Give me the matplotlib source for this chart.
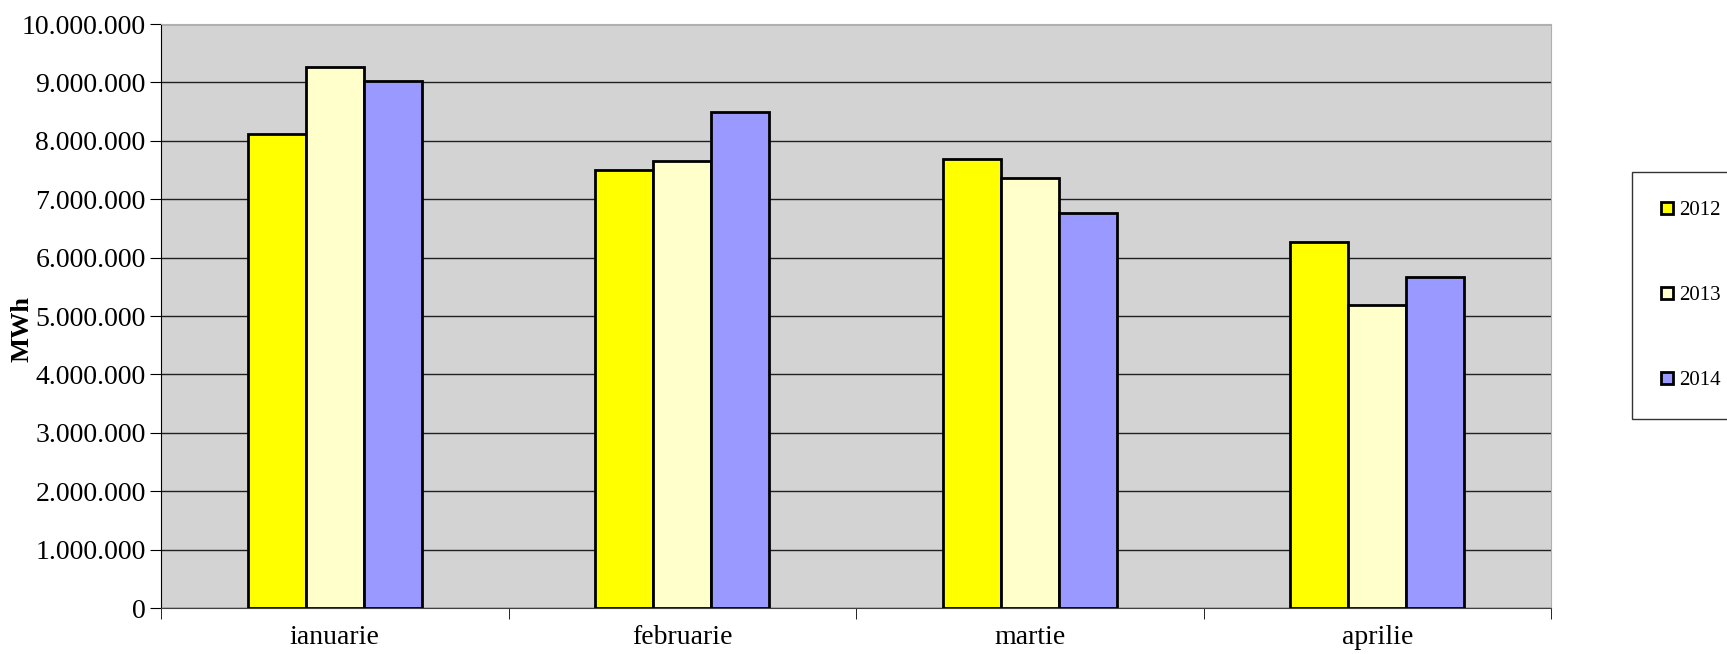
import numpy as np
import matplotlib
matplotlib.use("Agg")
import matplotlib.pyplot as plt
from matplotlib.ticker import FuncFormatter

plt.rcParams['font.family'] = ['Liberation Serif', 'DejaVu Serif']

# Data (MWh)
months = ['ianuarie', 'februarie', 'martie', 'aprilie']
years = ['2012', '2013', '2014']
v2012 = [8110000, 7500000, 7680000, 6270000]
v2013 = [9270000, 7650000, 7370000, 5180000]
v2014 = [9030000, 8490000, 6770000, 5670000]
colors = ['#ffff00', '#ffffcc', '#9999ff']

fig = plt.figure(figsize=(17.27, 6.54), dpi=100)
ax = fig.add_axes([161/1727, 1 - 608/654, (1551-161)/1727, (608-24)/654])
ax.set_facecolor('#d3d3d3')

x = np.arange(len(months))
w = 1/6
for i, (vals, lab) in enumerate(zip([v2012, v2013, v2014], years)):
    ax.bar(x + (i - 1) * w, vals, width=w, color=colors[i], edgecolor='black',
           linewidth=2, label=lab, zorder=3)

ax.set_xlim(-0.5, 3.5)
ax.set_ylim(0, 10000000)
ax.set_yticks(np.arange(0, 10000001, 1000000))
ax.yaxis.set_major_formatter(FuncFormatter(lambda v, p: f"{int(v):,}".replace(',', '.')))
ax.grid(axis='y', color='#202020', linewidth=1, zorder=1)
ax.set_axisbelow(True)

ax.set_xticks(x)
ax.set_xticklabels(months, fontsize=20)
ax.set_xticks(np.arange(-0.5, 4, 1), minor=True)
ax.tick_params(axis='x', which='major', length=0, pad=12)
ax.tick_params(axis='x', which='minor', length=8, direction='out', color='black')
ax.tick_params(axis='y', labelsize=20, length=8, direction='out', pad=3)

for s in ['top', 'right']:
    ax.spines[s].set_color('#b0b0b0')
ax.spines['left'].set_color('black')
ax.spines['bottom'].set_color('#404040')

ax.set_ylabel('MWh', fontsize=19, fontweight='bold')
ax.yaxis.set_label_coords(-0.092, 0.478)

leg = fig.legend(loc='upper left', bbox_to_anchor=(1632/1727, 1 - 172/654),
                 fontsize=15, frameon=True, fancybox=False, edgecolor='black',
                 handlelength=0.55, handleheight=0.55, handletextpad=0.3,
                 labelspacing=3.17, borderpad=1.4, borderaxespad=0)
leg.get_frame().set_linewidth(1)

fig.savefig('out.png', dpi=100)
